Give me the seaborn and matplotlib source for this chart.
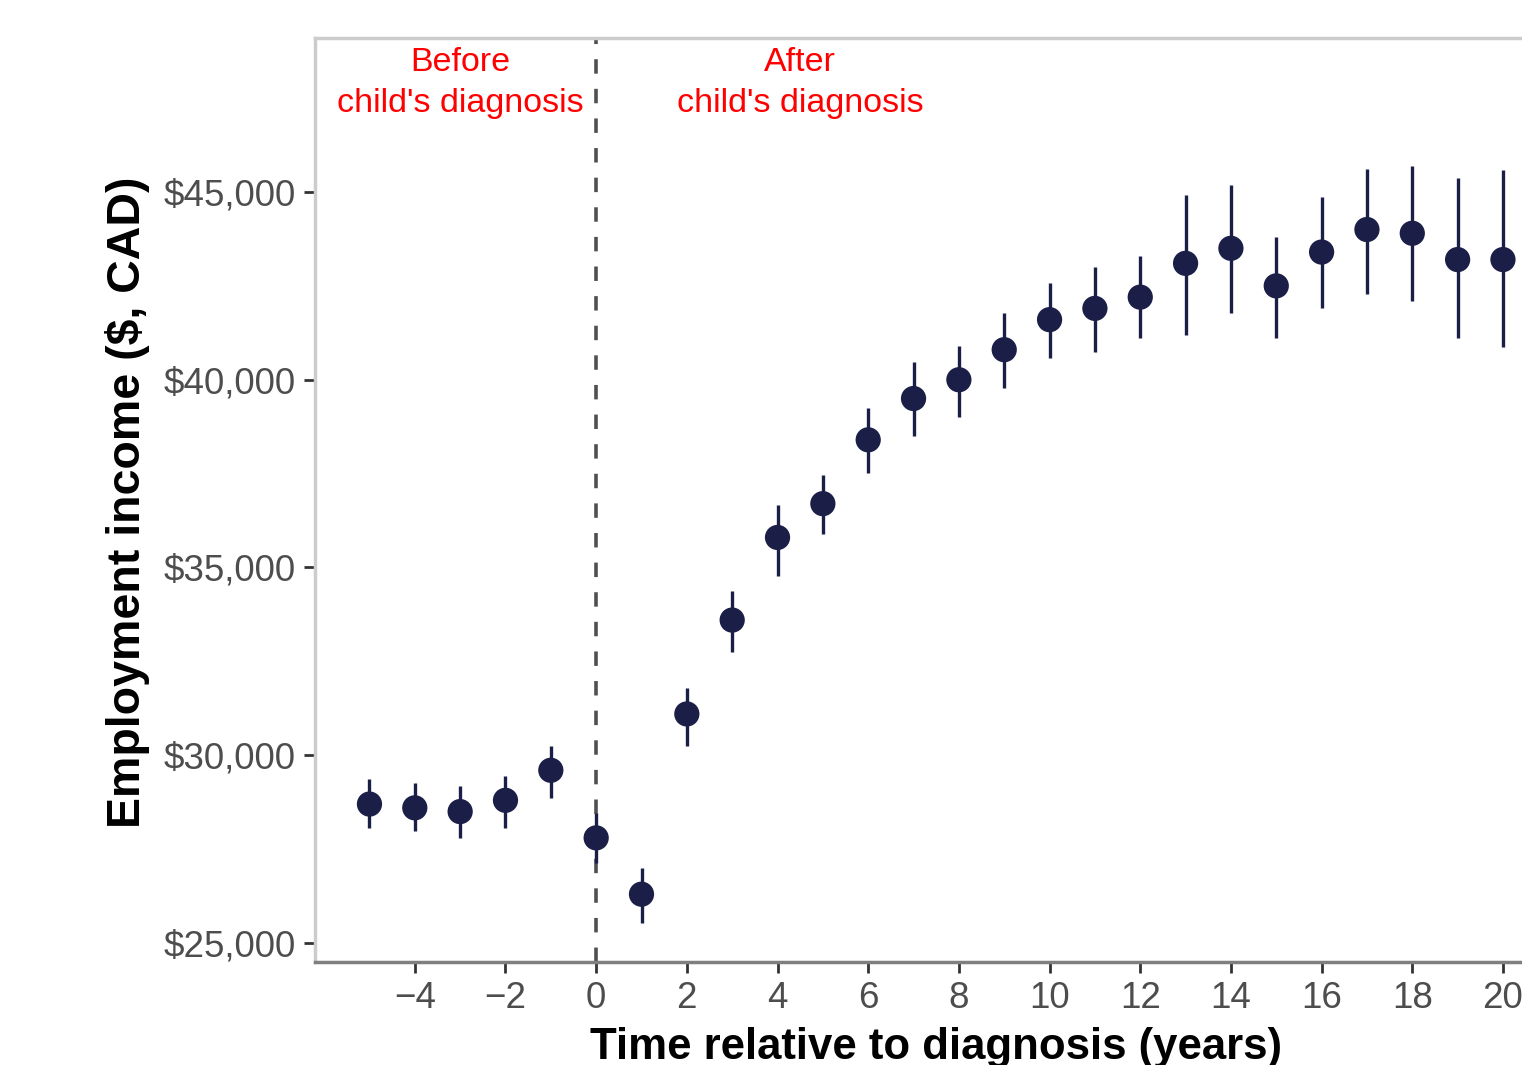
import matplotlib
matplotlib.use("Agg")
import matplotlib.pyplot as plt
import matplotlib.ticker as mticker
import seaborn as sns
import numpy as np
import pandas as pd

# values
years = [-5, -4, -3, -2, -1, 0, 1, 2, 3, 4, 5, 6, 7, 8, 9, 10, 11, 12, 13, 14, 15, 16, 17, 18, 19, 20]
income = [28700, 28600, 28500, 28800, 29600, 27800, 26300, 31100, 33600, 35800, 36700, 38400, 39500,
          40000, 40800, 41600, 41900, 42200, 43100, 43500, 42500, 43400, 44000, 43900, 43200, 43200]
ci_low = [28060, 27980, 27800, 28060, 28860, 27130, 25530, 30250, 32750, 34770, 35890, 37520, 38500,
          39010, 39780, 40580, 40740, 41110, 41190, 41780, 41110, 41910, 42280, 42100, 41110, 40870]
ci_high = [29370, 29260, 29180, 29450, 30250, 28460, 27000, 31790, 34370, 36660, 37460, 39250, 40470,
           40900, 41780, 42580, 43000, 43300, 44920, 45190, 43800, 44870, 45610, 45690, 45370, 45590]
y_ticks = [25000, 30000, 35000, 40000, 45000]
x_ticks = [-4, -2, 0, 2, 4, 6, 8, 10, 12, 14, 16, 18, 20]

df = pd.DataFrame({"time": years, "income": income, "lo": ci_low, "hi": ci_high})

sns.set_style("white")
plt.rcParams['font.family'] = ['Liberation Sans', 'DejaVu Sans']

navy = "#1b1e47"

fig = plt.figure(figsize=(15.22, 10.65), dpi=100)
ax = fig.add_axes([0.207, 0.0967, 0.793, 0.8676])

ax.axvline(0, color="#505050", lw=2.6, ls=(0, (4.0, 4.2)), zorder=1)
ax.vlines(df["time"], df["lo"], df["hi"], color=navy, lw=2.4, zorder=2)
sns.scatterplot(data=df, x="time", y="income", color=navy, s=330, edgecolor="none", ax=ax, zorder=3)

ax.text(-3.0, 47900, "Before\nchild's diagnosis", color="red", fontsize=24.5,
        ha="center", va="center", linespacing=1.45)
ax.text(4.5, 47900, "After\nchild's diagnosis", color="red", fontsize=24.5,
        ha="center", va="center", linespacing=1.45)

ax.set_xlim(-6.2, 20.42)
ax.set_ylim(24494, 49100)
ax.set_xticks(x_ticks)
ax.set_yticks(y_ticks)
ax.yaxis.set_major_formatter(mticker.FuncFormatter(lambda v, p: f"${v:,.0f}"))

ax.set_xlabel("Time relative to diagnosis (years)", fontsize=31.5, fontweight="bold", color="black")
ax.set_ylabel("Employment income ($, CAD)", fontsize=33.5, fontweight="bold", color="black")
ax.xaxis.set_label_coords(0.5145, -0.07)
ax.yaxis.set_label_coords(-0.137, 0.498)
ax.tick_params(axis="both", which="major", labelsize=26.5, labelcolor="#4d4d4d",
               color="#333333", length=8, width=2, direction="out", pad=6)
ax.tick_params(left=True, bottom=True)

ax.spines["right"].set_visible(False)
ax.spines["top"].set_color("#cccccc")
ax.spines["left"].set_color("#cccccc")
ax.spines["bottom"].set_color("#7f7f7f")
for s in ["top", "left", "bottom"]:
    ax.spines[s].set_linewidth(2.5)

fig.savefig("out.png", dpi=100)
